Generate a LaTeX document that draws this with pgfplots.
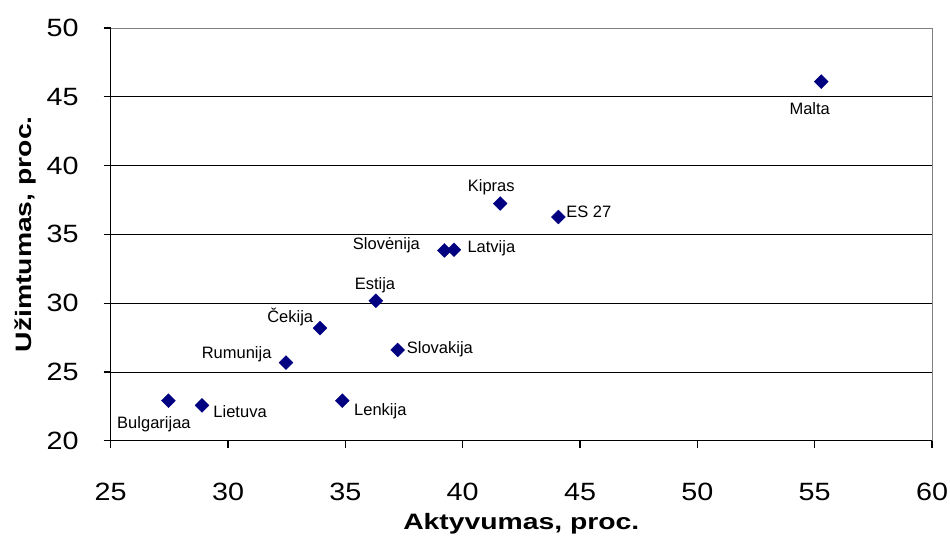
\documentclass[border=0pt]{standalone}
\usepackage{pgfplots}
\pgfplotsset{compat=1.18}
\usepackage{fontspec}
\setmainfont{Liberation Sans}
\newfontfamily\tickfont{Liberation Sans}[FakeStretch=1.15]
\newfontfamily\labfont{Liberation Sans}[FakeStretch=1.27]
\definecolor{mk}{RGB}{0,0,128}
\definecolor{frame}{RGB}{128,128,128}
\begin{document}
\begin{tikzpicture}
\path[use as bounding box] (-110.7pt,-95.3pt) rectangle (839.3pt,440.7pt);
\begin{axis}[
  at={(0pt,0pt)}, anchor=south west,
  scale only axis, width=821.3pt, height=412.7pt,
  xmin=25, xmax=60, ymin=20, ymax=50,
  xtick={25,30,...,60}, ytick={20,25,...,50},
  xtick pos=bottom, ytick pos=left,
  tick align=outside,
  major tick length=7pt,
  tick style={black, line width=1.2pt},
  axis line style={frame, line width=0.9pt},
  ymajorgrids, grid style={black, line width=0.8pt},
  /pgf/number format/assume math mode=true,
  ticklabel style={font=\fontsize{25}{28}\selectfont\tickfont},
  xticklabel style={anchor=base, inner sep=0pt, yshift=-52.3pt},
  yticklabel style={anchor=east, inner sep=0pt, xshift=-25pt},
  xlabel={Aktyvumas, proc.},
  ylabel={Užimtumas, proc.},
  xlabel style={at={(axis description cs:0.5,-0.2147)}, anchor=base, inner sep=0pt, font=\fontsize{22.3}{26}\selectfont\labfont\bfseries},
  ylabel style={at={(axis description cs:-0.0962,0.5)}, anchor=base, inner sep=0pt, font=\fontsize{22.3}{26}\selectfont\labfont\bfseries},
  clip=false,
]
\draw[black, line width=0.9pt] (rel axis cs:0,0) -- (rel axis cs:0,1);
\draw[black, line width=0.9pt] (rel axis cs:0,0) -- (rel axis cs:1,0);
\addplot[only marks, mark=square*, mark size=4.9pt, color=mk,
  mark options={rotate=45, fill=mk, draw=mk}] coordinates {
  (55.28,46.10) (41.60,37.24) (44.08,36.26) (39.22,33.83)
  (39.63,33.88) (36.30,30.17) (33.92,28.18) (32.47,25.68)
  (37.23,26.60) (27.46,22.91) (28.89,22.57) (34.87,22.91)
};
\begin{scope}[every node/.style={inner sep=0pt, font=\fontsize{16.5}{19}\selectfont}]
\node[anchor=base] at ([shift={(-11.5pt,-33.3pt)}]axis cs:55.28,46.10) {Malta};
\node[anchor=base] at ([shift={(-9pt,12.3pt)}]axis cs:41.60,37.24) {Kipras};
\node[anchor=base west] at ([shift={(7.7pt,0pt)}]axis cs:44.08,36.26) {ES 27};
\node[anchor=base east] at ([shift={(-24.3pt,0.7pt)}]axis cs:39.22,33.83) {Slovėnija};
\node[anchor=base west] at ([shift={(13.3pt,-2.7pt)}]axis cs:39.63,33.88) {Latvija};
\node[anchor=base] at ([shift={(-0.9pt,11pt)}]axis cs:36.30,30.17) {Estija};
\node[anchor=base east] at ([shift={(-6.7pt,5.6pt)}]axis cs:33.92,28.18) {Čekija};
\node[anchor=base east] at ([shift={(-14.3pt,4.4pt)}]axis cs:32.47,25.68) {Rumunija};
\node[anchor=base west] at ([shift={(9pt,-4pt)}]axis cs:37.23,26.60) {Slovakija};
\node[anchor=base east] at ([shift={(22.4pt,-28.3pt)}]axis cs:27.46,22.91) {Bulgarijaa};
\node[anchor=base west] at ([shift={(11.3pt,-12.4pt)}]axis cs:28.89,22.57) {Lietuva};
\node[anchor=base west] at ([shift={(11.7pt,-15pt)}]axis cs:34.87,22.91) {Lenkija};
\end{scope}
\end{axis}
\end{tikzpicture}
\end{document}
